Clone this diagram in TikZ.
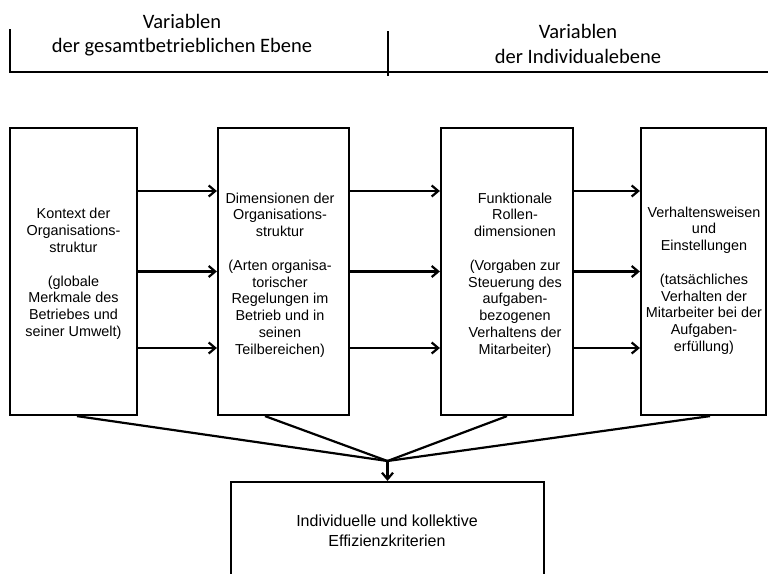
\documentclass[tikz,border=0pt]{standalone}
\usepackage{fontspec}
\setmainfont{Liberation Sans}
\newfontfamily\hdrfont{Carlito}
\usetikzlibrary{arrows.meta}
\begin{document}
\begin{tikzpicture}[x=1pt,y=-1pt,
  box/.style={draw, line width=2.2pt, rectangle, inner sep=0pt},
  txt/.style={align=center, inner sep=0pt, font=\fontsize{14.4}{16.8}\selectfont},
  bigtxt/.style={align=center, inner sep=0pt, font=\fontsize{16}{20}\selectfont},
  hdr/.style={align=center, inner sep=0pt, font=\hdrfont\fontsize{20.5}{24.5}\selectfont},
  flow/.style={line width=2.4pt, -{Straight Barb[length=6.5pt,width=11pt,line width=2.2pt]}},
  link/.style={line width=2.2pt},
  rule/.style={line width=2pt}]
\useasboundingbox (0,0) rectangle (768,573);
\clip (0,0) rectangle (768,573);
\fill[white] (0,0) rectangle (768,573);

% header
\draw[rule] (10,29) -- (10,72) -- (768,72);
\draw[rule] (388,31) -- (388,76);
\node[hdr] (h1) at (182,35) {Variablen\\der gesamtbetrieblichen Ebene};
\node[hdr] (h2) at (578,44) {Variablen\\der Individualebene};

% boxes
\node[box, minimum width=127pt, minimum height=287pt] (b1) at (73.5,271.5) {};
\node[box, minimum width=131pt, minimum height=287pt] (b2) at (283.5,271.5) {};
\node[box, minimum width=132pt, minimum height=287pt] (b3) at (507,271.5) {};
\node[box, minimum width=125pt, minimum height=287pt] (b4) at (703.5,271.5) {};
\node[box, minimum width=313pt, minimum height=128pt] (b5) at (387.5,546) {};

% texts
\node[txt] (t1) at (73.5,274) {Kontext der\\Organisations-\\struktur\\[16.8pt](globale\\Merkmale des\\Betriebes und\\seiner Umwelt)};
\node[txt] (t2) at (280,275) {Dimensionen der\\Organisations-\\struktur\\[16.8pt](Arten organisa-\\torischer\\Regelungen im\\Betrieb und in\\seinen\\Teilbereichen)};
\node[txt] (t3) at (515,275) {Funktionale\\Rollen-\\dimensionen\\[16.8pt](Vorgaben zur\\Steuerung des\\aufgaben-\\bezogenen\\Verhaltens der\\Mitarbeiter)};
\node[txt] (t4) at (704,280.5) {Verhaltensweisen\\und\\Einstellungen\\[16.8pt](tatsächliches\\Verhalten der\\Mitarbeiter bei der\\Aufgaben-\\erfüllung)};
\node[bigtxt] (t5) at (387,531) {Individuelle und kollektive\\Effizienzkriterien};

% horizontal arrows
\foreach \a/\b in {b1/b2, b2/b3, b3/b4} {
  \draw[flow] ([yshift=80.5pt]\a.east) -- ([yshift=80.5pt]\b.west);
  \draw[flow] (\a.east) -- (\b.west);
  \draw[flow] ([yshift=-76.5pt]\a.east) -- ([yshift=-76.5pt]\b.west);
}

% converging lines
\coordinate (m) at (387.5,461);
\draw[link] ([xshift=3.5pt]b1.south) -- (m);
\draw[link] ([xshift=-18.5pt]b2.south) -- (m);
\draw[link] (b3.south) -- (m);
\draw[link] ([xshift=6.5pt]b4.south) -- (m);
\draw[flow] (m) -- (b5.north);
\end{tikzpicture}
\end{document}
